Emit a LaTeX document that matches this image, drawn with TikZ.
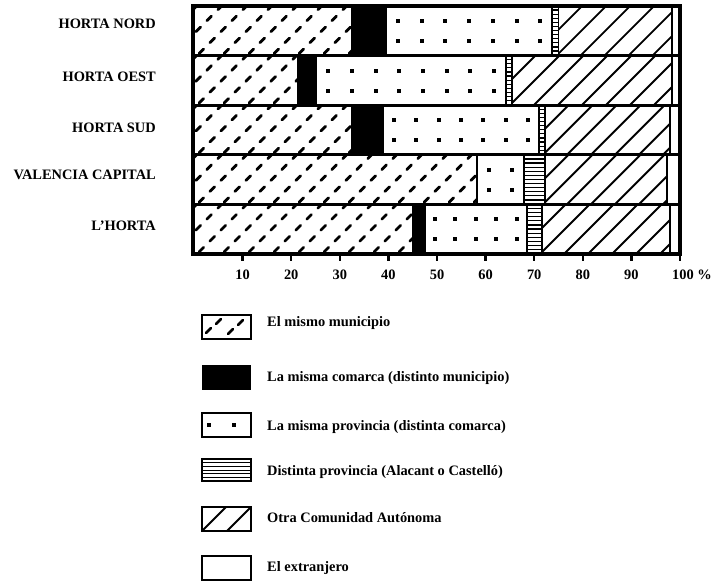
\documentclass[tikz,border=0pt]{standalone}
\usepackage{fontspec}
\setmainfont{Liberation Serif}
\begin{document}
\begin{tikzpicture}[
    x=1pt, y=-1pt,
    declare function={px(\p)=194+4.86*\p;},
    txt/.style={font=\fontsize{14.4}{17}\selectfont\bfseries, inner sep=0pt},
    rowlabel/.style={txt, anchor=east},
    ticklabel/.style={txt},
    legtext/.style={txt, anchor=west},
    seg/.style={line width=1.8pt},
    frame/.style={line width=3.2pt},
    tickmark/.style={line width=2.4pt},
    hatch/.style={line width=1.9pt},
    dashhatch/.style={line width=2.8pt, line cap=round, dash pattern=on 6.5pt off 9pt},
    legdash/.style={line width=2.8pt, line cap=round},
    rung/.style={line width=1.2pt},
    legbox/.style={line width=1.8pt}
  ]
  \useasboundingbox (0,0) rectangle (712,583);

  % One bar per row: name, label height, then where each part ends (in %)
  \foreach \name/\ly/\a/\b/\c/\d/\e [count=\i from 0] in {
      HORTA NORD/24/32.5/39.5/73.7/75.0/98.3,
      HORTA OEST/77/21.4/25.2/64.2/65.4/98.3,
      HORTA SUD/128/32.5/38.9/71.0/72.2/98.0,
      VALENCIA CAPITAL/175/58.2/58.2/67.9/72.2/97.4,
      L'HORTA/226/45.0/47.5/68.5/71.6/98.0}{
    \pgfmathsetmacro\ytop{6+49.6*\i}
    \pgfmathsetmacro\ybot{\ytop+49.6}
    \pgfmathsetmacro\xa{px(0)}
    \pgfmathsetmacro\xb{px(\a)}
    \pgfmathsetmacro\xc{px(\b)}
    \pgfmathsetmacro\xd{px(\c)}
    \pgfmathsetmacro\xe{px(\d)}
    \pgfmathsetmacro\xf{px(\e)}

    \node[rowlabel] (row\i) at (156,\ly) {\name};

    % El mismo municipio: dashed hatching
    \begin{scope}
      \clip (\xa,\ytop) rectangle (\xb,\ybot);
      \foreach \k in {0,...,14}
        \draw[dashhatch] ({\xa-45+25*\k},{\ybot-2}) -- ++(60,-60);
    \end{scope}

    % La misma comarca: solid black
    \fill (\xb,\ytop) rectangle (\xc,\ybot);

    % La misma provincia: two rows of dots
    \pgfmathtruncatemacro\nd{round((\xd-\xc)/22.5)}
    \pgfmathsetmacro\sp{(\xd-\xc)/\nd}
    \foreach \u in {1,...,\nd}{
      \fill ({\xc+\sp*(\u-0.5)-2},{\ytop+15-2}) rectangle ++(4,4);
      \fill ({\xc+\sp*(\u-0.5)-2},{\ytop+35-2}) rectangle ++(4,4);
    }

    % Distinta provincia: horizontal rungs
    \foreach \v in {1,...,11}
      \draw[rung] (\xd,{\ytop+4.1*\v}) -- (\xe,{\ytop+4.1*\v});

    % Otra Comunidad: diagonal hatching
    \begin{scope}
      \clip (\xe,\ytop) rectangle (\xf,\ybot);
      \foreach \k in {0,...,9}
        \draw[hatch] ({\xe-50+24*\k},\ybot) -- ++(60,-60);
    \end{scope}

    % part borders
    \foreach \xx in {\xb,\xc,\xd,\xe,\xf}
      \draw[seg] (\xx,\ytop) -- (\xx,\ybot);
  }

  % rows and outer frame
  \foreach \j in {1,...,4}
    \draw[frame] (193,{6+49.6*\j}) -- (680,{6+49.6*\j});
  \draw[frame] (193,6) rectangle (680,254);

  % axis ticks and labels
  \foreach \t in {1,...,10}
    \draw[tickmark] ({px(10*\t)},254) -- ++(0,7);
  \foreach \t in {1,...,9}{
    \pgfmathtruncatemacro\val{10*\t}
    \node[ticklabel] (tick\t) at ({px(10*\t)},275) {\val};
  }
  \node[ticklabel, anchor=west] (tick10) at (672,275) {100 \%};

  % legend
  \begin{scope}
    \clip (202,315) rectangle (251,339);
    \draw[legdash] (206,333) -- (211,328);
    \draw[legdash] (216,324) -- (221,319);
    \draw[legdash] (228,334) -- (233,329);
    \draw[legdash] (238,325) -- (243,320);
  \end{scope}
  \draw[legbox] (202,315) rectangle (251,339);
  \node[legtext] (leg1) at (267,323) {El mismo municipio};

  \fill (202,365) rectangle (251,390);
  \node[legtext] (leg2) at (267,378) {La misma comarca (distinto municipio)};

  \draw[legbox] (202,413) rectangle (251,437);
  \fill (207,423) rectangle ++(4,4);
  \fill (232,423) rectangle ++(4,4);
  \node[legtext] (leg3) at (267,427) {La misma provincia (distinta comarca)};

  \foreach \v in {1,...,5}
    \draw[rung] (202,{459+3.7*\v}) -- (251,{459+3.7*\v});
  \draw[legbox] (202,459) rectangle (251,481);
  \node[legtext] (leg4) at (267,472) {Distinta provincia (Alacant o Castelló)};

  \begin{scope}
    \clip (202,507) rectangle (251,531);
    \draw[hatch] (200,533) -- ++(27,-27);
    \draw[hatch] (225,533) -- ++(27,-27);
  \end{scope}
  \draw[legbox] (202,507) rectangle (251,531);
  \node[legtext] (leg5) at (267,518) {Otra Comunidad Autónoma};

  \draw[legbox] (202,556) rectangle (251,580);
  \node[legtext] (leg6) at (267,568) {El extranjero};

\end{tikzpicture}
\end{document}
